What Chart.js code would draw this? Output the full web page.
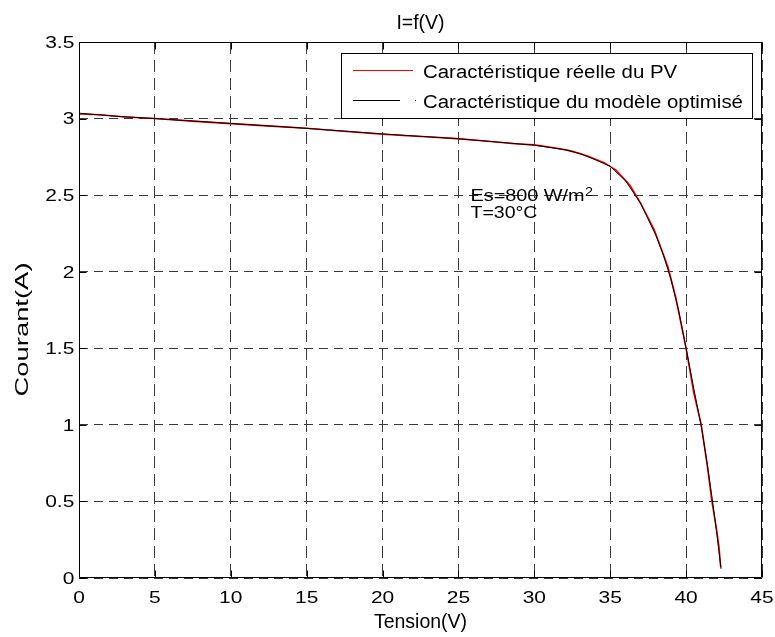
<!DOCTYPE html>
<html><head><meta charset="utf-8">
<script src="https://cdn.jsdelivr.net/npm/chart.js@4/dist/chart.umd.min.js"></script>
<style>html,body{margin:0;padding:0;background:#fff;overflow:hidden}</style>
</head><body>
<canvas id="c" width="775" height="637" style="width:775px;height:637px;display:block"></canvas>
<script>
const chartTitle = 'I=f(V)';
const xAxisTitle = 'Tension(V)';
const yAxisTitle = 'Courant(A)';
const seriesLabels = ['Caractéristique réelle du PV', 'Caractéristique du modèle optimisé'];
const xTickLabels = ['0','5','10','15','20','25','30','35','40','45'];
const yTickLabels = ['0','0.5','1','1.5','2','2.5','3','3.5'];
const annotationMain = 'Es=800 W/m';
const annotationSup = '2';
const annotationLine2 = 'T=30°C';

const realV = [0, 1.4, 3.0, 5.0, 7.7, 10.0, 12.4, 15.0, 17.0, 20.0, 21.6, 23.2, 24.9, 26.2, 27.5, 28.7, 30.0, 31.3, 32.4, 33.5, 34.6, 35.4, 36.3, 37.0, 37.9, 38.8, 39.3, 40.0, 40.5, 41.0, 41.4, 41.7, 42.0, 42.17, 42.28];
const realI = [3.03, 3.025, 3.01, 3.0, 2.982, 2.967, 2.952, 2.937, 2.92, 2.898, 2.888, 2.88, 2.869, 2.858, 2.847, 2.836, 2.828, 2.81, 2.789, 2.756, 2.712, 2.662, 2.565, 2.447, 2.273, 2.033, 1.84, 1.5, 1.21, 1.0, 0.73, 0.5, 0.32, 0.2, 0.07];
const modelV = [0, 2.5, 5, 10, 15, 20, 25, 28, 30, 32, 33, 34, 35, 36, 37, 38, 38.5, 39, 39.5, 40, 40.5, 41, 41.4, 41.7, 42, 42.3];
const modelI = [3.035, 3.015, 3.0, 2.968, 2.936, 2.9, 2.868, 2.843, 2.826, 2.797, 2.772, 2.732, 2.688, 2.595, 2.447, 2.24, 2.11, 1.95, 1.75, 1.5, 1.24, 0.99, 0.74, 0.53, 0.31, 0.06];

const FONT = '"Liberation Sans", Arial, Helvetica, sans-serif';

function drawText(ctx, txt, x, y, size, sx, align) {
  ctx.save();
  ctx.font = size + 'px ' + FONT;
  ctx.textBaseline = 'alphabetic';
  ctx.textAlign = 'left';
  const w = ctx.measureText(txt).width * sx;
  let left = x;
  if (align === 'center') left = x - w / 2;
  else if (align === 'right') left = x - w;
  ctx.translate(left, y);
  ctx.scale(sx, 1);
  ctx.fillStyle = '#000';
  ctx.fillText(txt, 0, 0);
  ctx.restore();
  return w;
}

const decor = {
  id: 'decor',
  afterDraw(chart) {
    const ctx = chart.ctx;
    const a = chart.chartArea;
    const xs = chart.scales.x, ys = chart.scales.y;
    const L = Math.round(a.left) + 0.5, R = Math.round(a.right) - 0.5;
    const T = Math.round(a.top) + 0.5, B = Math.round(a.bottom) - 0.5;
    ctx.save();
    ctx.strokeStyle = '#000';
    ctx.lineWidth = 1;
    ctx.setLineDash([]);
    ctx.beginPath();
    ctx.rect(L, T, R - L, B - T);
    ctx.stroke();
    const tl = 7;
    ctx.beginPath();
    xs.ticks.forEach(t => {
      const px = Math.round(xs.getPixelForValue(t.value)) + 0.5;
      ctx.moveTo(px, B); ctx.lineTo(px, B - tl);
      ctx.moveTo(px, T); ctx.lineTo(px, T + tl);
    });
    ys.ticks.forEach(t => {
      const py = Math.round(ys.getPixelForValue(t.value)) + 0.5;
      ctx.moveTo(L, py); ctx.lineTo(L + tl, py);
      ctx.moveTo(R, py); ctx.lineTo(R - tl, py);
    });
    ctx.stroke();
    ctx.restore();

    xs.ticks.forEach((t, i) => {
      const px = xs.getPixelForValue(t.value);
      drawText(ctx, xTickLabels[i], px, 603, 16.5, 1.27, 'center');
    });
    ys.ticks.forEach((t, i) => {
      const py = ys.getPixelForValue(t.value);
      drawText(ctx, yTickLabels[i], 74.3, py + 5.9, 16.5, 1.27, 'right');
    });

    drawText(ctx, chartTitle, (a.left + a.right) / 2, 28.5, 19.5, 1, 'center');
    drawText(ctx, xAxisTitle, (a.left + a.right) / 2, 627.5, 19.5, 1, 'center');
    ctx.save();
    ctx.translate(28, 329.5);
    ctx.rotate(-Math.PI / 2);
    ctx.font = '18px ' + FONT;
    const natural = ctx.measureText(yAxisTitle).width;
    drawText(ctx, yAxisTitle, 0, 0, 18, 134 / natural, 'center');
    ctx.restore();

    ctx.save();
    ctx.fillStyle = '#fff';
    ctx.strokeStyle = '#000';
    ctx.lineWidth = 1;
    ctx.fillRect(341.5, 53.5, 411, 65);
    ctx.strokeRect(341.5, 53.5, 411, 65);
    const ds = chart.data.datasets;
    ctx.strokeStyle = ds[0].borderColor;
    ctx.beginPath(); ctx.moveTo(353, 70.5); ctx.lineTo(413, 70.5); ctx.stroke();
    ctx.strokeStyle = ds[1].borderColor;
    ctx.setLineDash([47, 15, 1, 100]);
    ctx.beginPath(); ctx.moveTo(353, 100.5); ctx.lineTo(417, 100.5); ctx.stroke();
    ctx.restore();
    drawText(ctx, ds[0].label, 423, 77.5, 18, 1.134, 'left');
    drawText(ctx, ds[1].label, 423, 107.5, 18, 1.134, 'left');

    const w1 = drawText(ctx, annotationMain, 470.5, 201, 16, 1.24, 'left');
    drawText(ctx, annotationSup, 470.5 + w1 + 0.5, 195.5, 12.5, 1.15, 'left');
    drawText(ctx, annotationLine2, 470.5, 217.8, 16, 1.22, 'left');
  }
};

const gridColor = '#3a3a3a';
new Chart(document.getElementById('c'), {
  type: 'line',
  data: {
    datasets: [
      {
        label: seriesLabels[0],
        data: realV.map((v, i) => ({ x: v, y: realI[i] })),
        borderColor: '#ff0000',
        borderWidth: 1.6,
        pointRadius: 0,
        tension: 0,
        fill: false,
        order: 2
      },
      {
        label: seriesLabels[1],
        data: modelV.map((v, i) => ({ x: v, y: modelI[i] })),
        borderColor: '#000000',
        borderWidth: 1,
        pointRadius: 0,
        tension: 0,
        fill: false,
        order: 1
      }
    ]
  },
  options: {
    responsive: false,
    animation: false,
    devicePixelRatio: 1,
    layout: { padding: { left: 79, right: 13, top: 42, bottom: 59 } },
    plugins: { legend: { display: false }, title: { display: false }, tooltip: { enabled: false } },
    scales: {
      x: {
        type: 'linear', min: 0, max: 45,
        ticks: { display: false, stepSize: 5, callback: (v, i) => xTickLabels[i] },
        grid: { color: gridColor, lineWidth: 1, drawTicks: false },
        border: { display: false, dash: [12, 6] },
        afterFit: s => { s.height = 0; }
      },
      y: {
        type: 'linear', min: 0, max: 3.5,
        ticks: { display: false, stepSize: 0.5, callback: (v, i) => yTickLabels[i] },
        grid: { color: gridColor, lineWidth: 1, drawTicks: false },
        border: { display: false, dash: [9, 6] },
        afterFit: s => { s.width = 0; }
      }
    }
  },
  plugins: [decor]
});
</script>
</body></html>
